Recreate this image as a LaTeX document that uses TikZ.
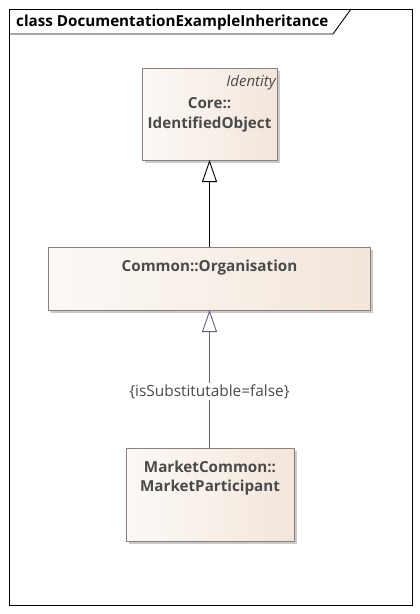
\documentclass[tikz,border=0pt]{standalone}
\usepackage{fontspec}
\setmainfont{Open Sans}
\usepackage{tikz}
\usetikzlibrary{arrows.meta,shadows}

\definecolor{boxleft}{HTML}{FCF9F6}
\definecolor{boxright}{HTML}{F3E6DB}
\definecolor{boxline}{HTML}{8C807A}
\definecolor{nametext}{HTML}{4A4A4A}
\definecolor{slate}{HTML}{62627E}

\begin{document}
\begin{tikzpicture}[x=1pt,y=-1pt,
    classbox/.style={draw=boxline, line width=0.9pt, left color=boxleft,
      right color=boxright, drop shadow={shadow xshift=3pt,
      shadow yshift=-3pt, fill=black!35, opacity=0.6}},
    classname/.style={text=nametext, font=\bfseries\fontsize{15.2}{19.5}\selectfont,
      align=center},
    generalise/.style={-{Triangle[length=22pt,width=15pt,fill=white,line width=0.9pt]},
      line width=1pt}]
    \useasboundingbox (0,0) rectangle (420,614);

    % frame and title tab
    \draw[line width=0.9pt] (9,9) rectangle (412,605);
    \draw[line width=0.9pt] (9,34) -- (333,34) -- (351,9);
    \node[anchor=base west, inner sep=0pt, font=\bfseries\fontsize{15.2}{18}\selectfont] (title)
      at (16,26) {class DocumentationExampleInheritance};

    % classes
    \path[classbox] (142,68) rectangle (277,160);
    \node[anchor=base east, inner sep=0pt, text=nametext, font=\itshape\fontsize{15}{18}\selectfont]
      (stereo) at (276,86) {Identity};
    \node[classname] (ident) at (209.5,115) {Core::\\IdentifiedObject};
    \coordinate (identbot) at (209.5,160);

    \path[classbox] (48,247) rectangle (370,310);
    \node[classname] (org) at (209.5,268) {Common::Organisation};
    \coordinate (orgtop) at (209.5,247);
    \coordinate (orgbot) at (209.5,310);

    \path[classbox] (126,448) rectangle (294,541);
    \node[classname] (part) at (210,478) {MarketCommon::\\MarketParticipant};
    \coordinate (parttop) at (209.5,448);

    % generalisations
    \draw[generalise] (orgtop) -- (identbot);
    \draw[generalise, draw=slate] (parttop) -- (orgbot)
      node[pos=0.41, fill=white, inner sep=1.5pt, text=nametext,
        font=\fontsize{15.4}{18}\selectfont] (subst) {\{isSubstitutable=false\}};
\end{tikzpicture}
\end{document}
